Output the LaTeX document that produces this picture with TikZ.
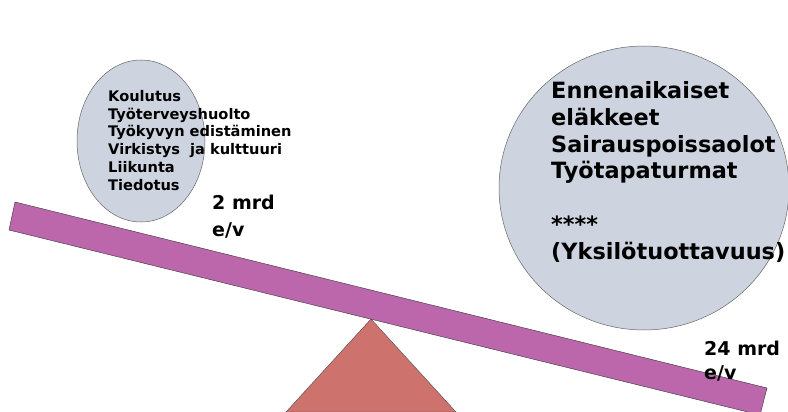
\documentclass[tikz,border=0pt]{standalone}
\usepackage{fontspec}
\setmainfont{DejaVu Sans}
\usetikzlibrary{shapes.geometric,positioning}

\begin{document}
\begin{tikzpicture}[
		x=1pt, y=-1pt,
		ball/.style = {draw=black!60, fill=ballblue, line width=0.5pt},
		smalllist/.style = {anchor=base west, inner sep=0pt, align=left, font=\bfseries\fontsize{14.6}{17.7}\selectfont},
		biglist/.style = {anchor=base west, inner sep=0pt, align=left, font=\bfseries\fontsize{22.4}{26.7}\selectfont},
		amount/.style = {anchor=base west, inner sep=0pt, align=left, font=\bfseries\fontsize{19}{27}\selectfont}
		]
		\definecolor{ballblue}{RGB}{205,212,224}
		\definecolor{plank}{RGB}{188,102,172}
		\definecolor{fulcrum}{RGB}{206,114,110}
		\useasboundingbox (0,0) rectangle (788,412);
		% Weights on the see-saw
		\node[ball, ellipse, minimum width=128pt, minimum height=162pt] (costs) at (141,141) {};
		\node[ball, ellipse, minimum width=290pt, minimum height=284pt] (losses) at (644,188) {};
		% Fulcrum and plank
		\coordinate (apex) at (371,319);
		\draw[black!70, fill=fulcrum] (apex) -- (456,412) -- (286,412) -- cycle;
		\draw[black!80, fill=plank] (15,202) -- (767,388) -- (760,415) -- (9,230) -- cycle;
		% Texts (base = last line)
		\node[smalllist] (inputs) at (108,190) {Koulutus\\Työterveyshuolto\\Työkyvyn edistäminen\\Virkistys\ \ ja kulttuuri\\Liikunta\\Tiedotus};
		\node[biglist] (outputs) at (551,259) {Ennenaikaiset\\eläkkeet\\Sairauspoissaolot\\Työtapaturmat\\[26.7pt]****\\(Yksilötuottavuus)};
		\node[amount] (small) at (212,236) {2 mrd\\e/v};
		\node[amount] (large) at (704,379) {24 mrd\\[-3pt]e/v};
\end{tikzpicture}
\end{document}
